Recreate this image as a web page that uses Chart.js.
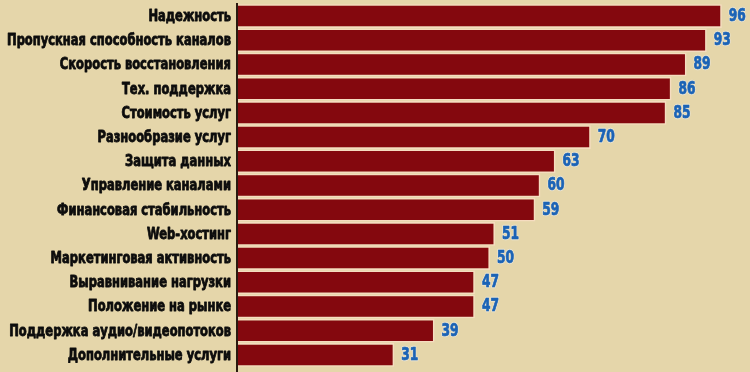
<!DOCTYPE html>
<html>
<head>
<meta charset="utf-8">
<script src="https://cdn.jsdelivr.net/npm/chart.js@4/dist/chart.umd.min.js"></script>
<style>
  html, body { margin: 0; padding: 0; background: #e5d6aa; }
  #wrap { width: 750px; height: 372px; position: relative; }
</style>
</head>
<body>
<div id="wrap"><canvas id="c"></canvas></div>
<script>
// Criteria and their scores
const categories = [
  'Надежность',
  'Пропускная способность каналов',
  'Скорость восстановления',
  'Тех. поддержка',
  'Стоимость услуг',
  'Разнообразие услуг',
  'Защита данных',
  'Управление каналами',
  'Финансовая стабильность',
  'Web-хостинг',
  'Маркетинговая активность',
  'Выравнивание нагрузки',
  'Положение на рынке',
  'Поддержка аудио/видеопотоков',
  'Дополнительные услуги'
];
const scores = [96, 93, 89, 86, 85, 70, 63, 60, 59, 51, 50, 47, 47, 39, 31];

const labelFont = '"DejaVu Sans Condensed", "DejaVu Sans", sans-serif';
const LABEL_FIT = 224;   // widest category label, px
const LABEL_GAP = 7;     // space between label and axis line

// Axis line running the full height of the plot
const axisLine = {
  id: 'axisLine',
  beforeDatasetsDraw(chart) {
    const ctx = chart.ctx;
    const x = chart.chartArea.left - 1;
    ctx.save();
    ctx.strokeStyle = '#2a1a10';
    ctx.lineWidth = 2;
    ctx.beginPath();
    ctx.moveTo(x, chart.chartArea.top - 1);
    ctx.lineTo(x, chart.height);
    ctx.stroke();
    ctx.restore();
  }
};

// Draws condensed category labels beside the axis and each bar's value past its end
const barText = {
  id: 'barText',
  afterDatasetsDraw(chart) {
    const ctx = chart.ctx;
    const yScale = chart.scales.y;
    const meta = chart.getDatasetMeta(0);
    const values = chart.data.datasets[0].data;
    const labels = chart.data.labels;

    ctx.save();
    ctx.font = 'bold 15px ' + labelFont;
    const widest = Math.max(...labels.map(l => ctx.measureText(l).width));
    const squeeze = LABEL_FIT / widest;
    ctx.fillStyle = '#0d0d0d';
    ctx.strokeStyle = '#0d0d0d';
    ctx.lineWidth = 0.8;
    ctx.lineJoin = 'round';
    ctx.textAlign = 'right';
    ctx.textBaseline = 'middle';
    labels.forEach((label, i) => {
      ctx.save();
      ctx.translate(yScale.right - LABEL_GAP, yScale.getPixelForTick(i) + 1);
      ctx.scale(squeeze, 1);
      ctx.fillText(label, 0, 0);
      ctx.strokeText(label, 0, 0);
      ctx.restore();
    });

    ctx.font = 'bold 17px ' + labelFont;
    ctx.textAlign = 'left';
    meta.data.forEach((bar, i) => {
      const text = String(values[i]);
      ctx.save();
      ctx.translate(bar.x + 7, bar.y + 0.5);
      ctx.scale(0.8, 1);
      ctx.lineWidth = 2.4;
      ctx.strokeStyle = 'rgba(235,232,222,0.7)';
      ctx.strokeText(text, 0, 0);
      ctx.fillStyle = '#1b63b6';
      ctx.fillText(text, 0, 0);
      ctx.lineWidth = 0.7;
      ctx.strokeStyle = '#1b63b6';
      ctx.strokeText(text, 0, 0);
      ctx.restore();
    });
    ctx.restore();
  }
};

new Chart(document.getElementById('c'), {
  type: 'bar',
  data: {
    labels: categories,
    datasets: [{
      data: scores,
      backgroundColor: '#84080e',
      borderColor: '#f6dcc0',
      borderWidth: 1.6,
      borderSkipped: 'start',
      categoryPercentage: 1,
      barPercentage: 0.98
    }]
  },
  options: {
    indexAxis: 'y',
    responsive: true,
    maintainAspectRatio: false,
    animation: false,
    layout: { padding: { top: 4, bottom: 5, left: 0, right: 8 } },
    plugins: {
      legend: { display: false },
      tooltip: { enabled: false }
    },
    scales: {
      x: {
        display: false,
        min: 0,
        max: 100
      },
      y: {
        afterFit(scale) {
          scale.width = 238;
          scale.paddingTop = 0;
          scale.paddingBottom = 0;
        },
        grid: { display: false, drawTicks: false },
        border: { display: false },
        ticks: { display: false }
      }
    }
  },
  plugins: [axisLine, barText]
});
</script>
</body>
</html>
